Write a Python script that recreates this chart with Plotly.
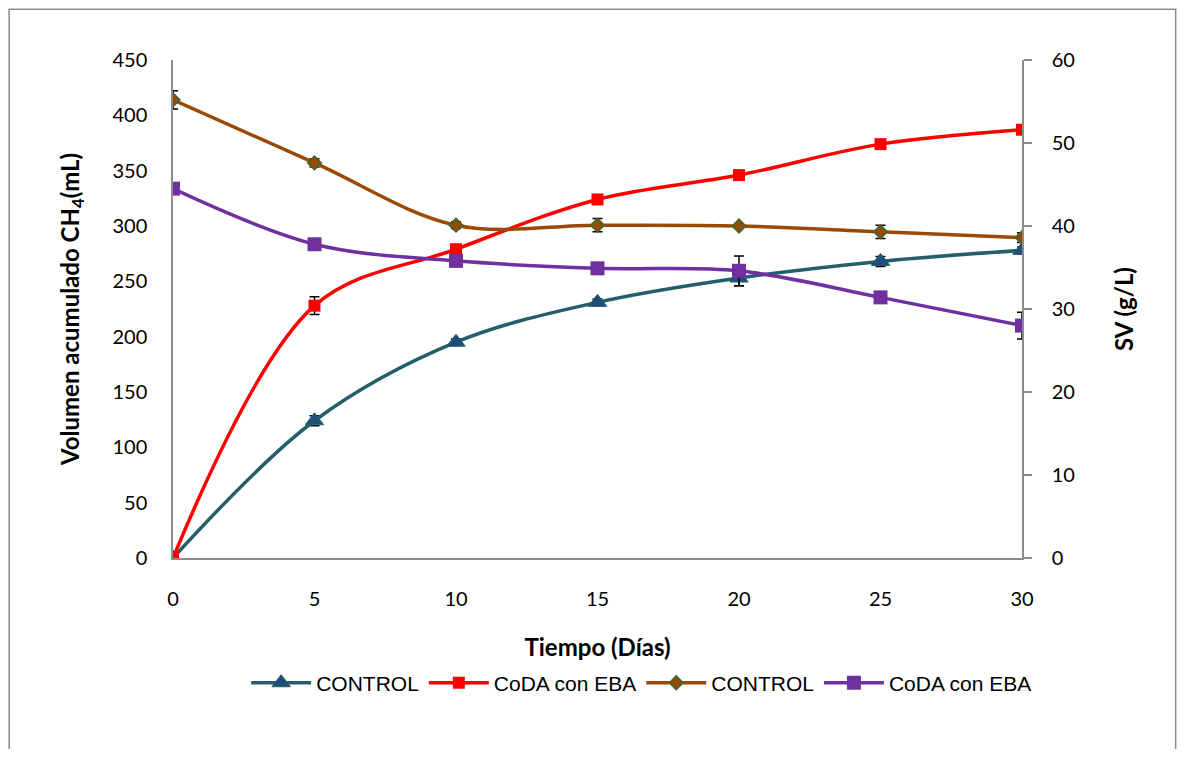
import plotly.graph_objects as go

dias = [0, 5, 10, 15, 20, 25, 30]

# Volumen acumulado CH4 (mL)
ch4_control = [0, 124, 195, 231, 253, 268, 278]
ch4_control_err = [0, 4.5, 3, 3, 7, 4.5, 3]
ch4_coda = [0, 228, 279, 324, 346, 374, 387]
ch4_coda_err = [0, 8, 3, 3, 2, 2, 2]

# SV (g/L)
sv_control = [55.2, 47.6, 40.1, 40.1, 40.0, 39.3, 38.6]
sv_control_err = [1.1, 0.5, 0.4, 0.8, 0.1, 0.8, 0.6]
sv_coda = [44.5, 37.8, 35.8, 34.9, 34.6, 31.4, 28.0]
sv_coda_err = [0.2, 0.2, 0.2, 0.2, 1.8, 0.2, 1.6]

names = ["CONTROL", "CoDA con EBA", "CONTROL", "CoDA con EBA"]

FONT = "Lato"
fig = go.Figure()

def err(vals):
    return dict(type="data", array=vals, color="black", thickness=1.5, width=5, visible=True)

fig.add_trace(go.Scatter(x=dias, y=ch4_control, name=names[0], mode="lines+markers",
                         line=dict(color="#255E6B", width=3.5, shape="spline"),
                         marker=dict(symbol="triangle-up", size=16, color="#1F4E79",
                                     line=dict(color="#255E6B", width=1)),
                         error_y=err(ch4_control_err)))
fig.add_trace(go.Scatter(x=dias, y=ch4_coda, name=names[1], mode="lines+markers",
                         line=dict(color="#FF0000", width=3.5, shape="spline"),
                         marker=dict(symbol="square", size=12, color="#FF0000"),
                         error_y=err(ch4_coda_err)))
fig.add_trace(go.Scatter(x=dias, y=sv_control, name=names[2], mode="lines+markers", yaxis="y2",
                         line=dict(color="#9B4A06", width=3.5, shape="spline"),
                         marker=dict(symbol="diamond", size=10, color="#9B4A06",
                                     line=dict(color="#4F6228", width=2)),
                         error_y=err(sv_control_err)))
fig.add_trace(go.Scatter(x=dias, y=sv_coda, name=names[3], mode="lines+markers", yaxis="y2",
                         line=dict(color="#7030A0", width=3.5, shape="spline"),
                         marker=dict(symbol="square", size=14, color="#7030A0"),
                         error_y=err(sv_coda_err)))

axis_common = dict(showgrid=False, zeroline=False, showline=True, linecolor="#8C8C8C",
                   linewidth=1.5, tickfont=dict(family=FONT, size=20, color="black"))
title_font = dict(family=FONT, size=24, color="black")

fig.update_layout(
    width=1169, height=741,
    paper_bgcolor="white", plot_bgcolor="white",
    margin=dict(l=165, r=155, t=52, b=191),
    font=dict(family=FONT, color="black"),
    xaxis=dict(range=[0, 30], tickvals=dias, ticks="", ticklabelstandoff=22, **axis_common,
               title=dict(text="<b>Tiempo (Días)</b>", font=title_font, standoff=30)),
    yaxis=dict(range=[0, 450], dtick=50, ticks="", ticklabelstandoff=20, **axis_common,
               title=dict(text="<b>Volumen acumulado CH<sub>4</sub>(mL)</b>",
                          font=title_font, standoff=26)),
    yaxis2=dict(range=[0, 60], dtick=10, overlaying="y", side="right", ticks="outside",
                tickcolor="#8C8C8C", ticklen=8, tickwidth=1.5, ticklabelstandoff=16, **axis_common,
                title=dict(text="<b>SV (g/L)</b>", font=title_font, standoff=42)),
    showlegend=True,
    legend=dict(orientation="h", x=0.552, xanchor="center", y=-0.21, yanchor="top",
                font=dict(family="Liberation Sans", size=21, color="black"),
                itemwidth=60, tracegroupgap=0, bgcolor="rgba(0,0,0,0)"),
    shapes=[dict(type="rect", xref="paper", yref="paper", x0=-0.193, x1=1.181,
                 y0=-0.41, y1=1.102, line=dict(color="#8C8C8C", width=1.5), layer="below")],
)

fig.write_html("out.html")
